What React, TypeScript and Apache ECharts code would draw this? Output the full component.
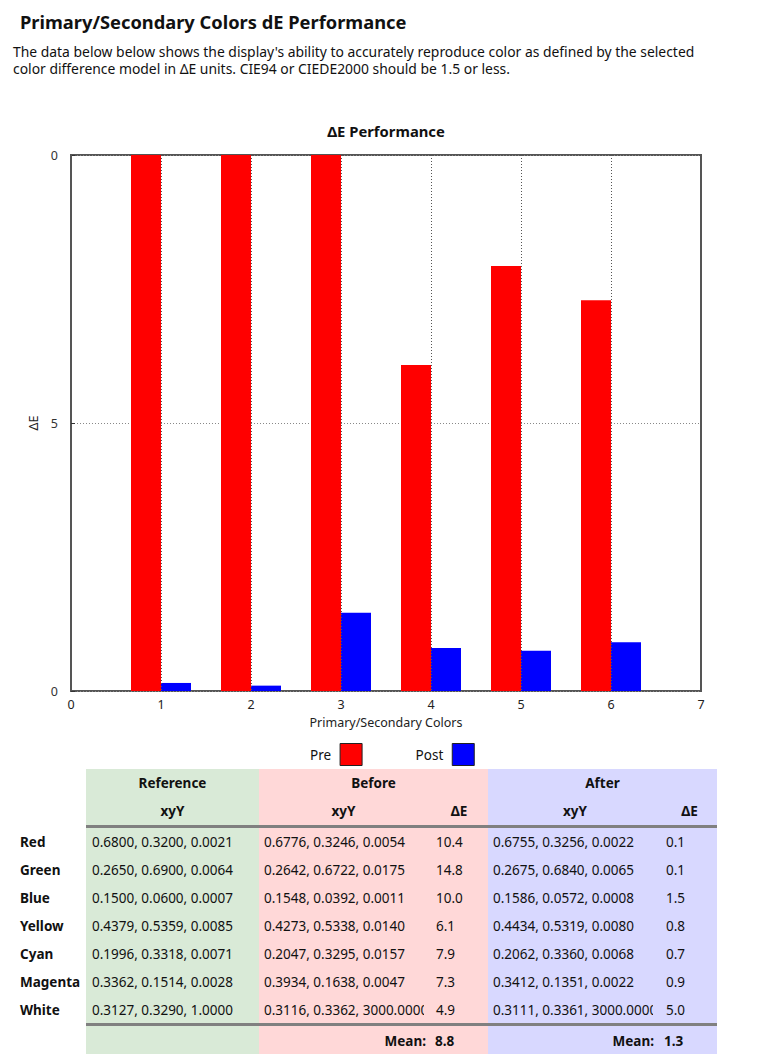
import React, { useEffect, useRef } from "react";
import * as echarts from "echarts";

// ---------- data ----------
const colorNames = ["Red", "Green", "Blue", "Yellow", "Cyan", "Magenta", "White"];
const referenceXyY = [
  "0.6800, 0.3200, 0.0021",
  "0.2650, 0.6900, 0.0064",
  "0.1500, 0.0600, 0.0007",
  "0.4379, 0.5359, 0.0085",
  "0.1996, 0.3318, 0.0071",
  "0.3362, 0.1514, 0.0028",
  "0.3127, 0.3290, 1.0000",
];
const beforeXyY = [
  "0.6776, 0.3246, 0.0054",
  "0.2642, 0.6722, 0.0175",
  "0.1548, 0.0392, 0.0011",
  "0.4273, 0.5338, 0.0140",
  "0.2047, 0.3295, 0.0157",
  "0.3934, 0.1638, 0.0047",
  "0.3116, 0.3362, 3000.0000",
];
const beforeDE = ["10.4", "14.8", "10.0", "6.1", "7.9", "7.3", "4.9"];
const afterXyY = [
  "0.6755, 0.3256, 0.0022",
  "0.2675, 0.6840, 0.0065",
  "0.1586, 0.0572, 0.0008",
  "0.4434, 0.5319, 0.0080",
  "0.2062, 0.3360, 0.0068",
  "0.3412, 0.1351, 0.0022",
  "0.3111, 0.3361, 3000.0000",
];
const afterDE = ["0.1", "0.1", "1.5", "0.8", "0.7", "0.9", "5.0"];
const beforeMean = "8.8";
const afterMean = "1.3";

// bar heights (primary/secondary colours 1..6)
const barPositions = [1, 2, 3, 4, 5, 6];
const preBars = [10.4, 14.8, 10.0, 6.08, 7.93, 7.29];
const postBars = [0.15, 0.1, 1.46, 0.8, 0.75, 0.91];
const xTickLabels = ["0", "1", "2", "3", "4", "5", "6", "7"];
const yTickLabels = ["0", "5", "0"];

const FONT = "Noto Sans";

export default function App() {
  const ref = useRef<HTMLDivElement>(null);

  useEffect(() => {
    document.body.style.margin = "0";
    document.body.style.overflow = "hidden";
    const chart = echarts.init(ref.current!, null, { renderer: "svg" });

    const BAR_W = 1 / 3;
    const makeRender = (side: number) => (params: any, api: any) => {
      const x = api.value(0);
      const y = api.value(1);
      const base = api.coord([x, 0]);
      const top = api.coord([x, y]);
      const w = api.size([BAR_W, 0])[0];
      const rect = echarts.graphic.clipRectByRect(
        {
          x: side < 0 ? base[0] - w : base[0],
          y: top[1],
          width: w,
          height: base[1] - top[1],
        },
        params.coordSys
      );
      if (!rect) return null;
      return { type: "rect", shape: rect, style: { fill: api.visual("color") } };
    };

    // ---------- table graphics ----------
    const g: any[] = [];
    const T = { top: 769, bottom: 1054 };
    const colRef = { x0: 86, x1: 259, fill: "#d9ead7" };
    const colBef = { x0: 259, x1: 488, fill: "#ffd8d8", de: 428, clip: 424 };
    const colAft = { x0: 488, x1: 717, fill: "#d8d8ff", de: 662, clip: 653 };
    const txt = (text: string, x: number, y: number, opts: any = {}) => ({
      type: "text",
      x,
      y,
      z: opts.z ?? 10,
      style: {
        text,
        fill: "#111",
        font: `${opts.bold ? "bold " : ""}${opts.size ?? 13.5}px "${FONT}"`,
        textAlign: opts.align ?? "left",
        textVerticalAlign: "middle",
      },
    });
    [colRef, colBef, colAft].forEach((c) =>
      g.push({
        type: "rect",
        z: 1,
        shape: { x: c.x0, y: T.top, width: c.x1 - c.x0, height: T.bottom - T.top },
        style: { fill: c.fill },
      })
    );
    // header
    g.push(txt("Reference", (colRef.x0 + colRef.x1) / 2, 783, { bold: true, align: "center" }));
    g.push(txt("Before", (colBef.x0 + colBef.x1) / 2, 783, { bold: true, align: "center" }));
    g.push(txt("After", (colAft.x0 + colAft.x1) / 2, 783, { bold: true, align: "center" }));
    g.push(txt("xyY", (colRef.x0 + colRef.x1) / 2, 811, { bold: true, align: "center" }));
    g.push(txt("xyY", (colBef.x0 + colBef.de) / 2, 811, { bold: true, align: "center" }));
    g.push(txt("ΔE", (colBef.de + colBef.x1) / 2 + 1, 811, { bold: true, align: "center" }));
    g.push(txt("xyY", (colAft.x0 + colAft.de) / 2, 811, { bold: true, align: "center" }));
    g.push(txt("ΔE", (colAft.de + colAft.x1) / 2, 811, { bold: true, align: "center" }));
    // separator lines
    [826.5, 1024.5].forEach((y) =>
      g.push({
        type: "line",
        z: 20,
        shape: { x1: colRef.x0, y1: y, x2: colAft.x1, y2: y },
        style: { stroke: "#808080", lineWidth: 3 },
      })
    );
    // cover rects to clip the long xyY strings
    g.push({
      type: "rect",
      z: 12,
      shape: { x: colBef.clip, y: 830, width: colBef.x1 - colBef.clip, height: 192 },
      style: { fill: colBef.fill },
    });
    g.push({
      type: "rect",
      z: 12,
      shape: { x: colAft.clip, y: 830, width: colAft.x1 - colAft.clip, height: 192 },
      style: { fill: colAft.fill },
    });
    colorNames.forEach((name, i) => {
      const y = 842 + 28 * i;
      g.push(txt(name, 20, y, { bold: true }));
      g.push(txt(referenceXyY[i], 92, y));
      g.push(txt(beforeXyY[i], 264, y));
      g.push(txt(beforeDE[i], 436, y, { z: 14 }));
      g.push(txt(afterXyY[i], 493, y));
      g.push(txt(afterDE[i], 666, y, { z: 14 }));
    });
    g.push(txt("Mean:", 426, 1041, { bold: true, align: "right" }));
    g.push(txt(beforeMean, 435, 1041, { bold: true }));
    g.push(txt("Mean:", 654, 1041, { bold: true, align: "right" }));
    g.push(txt(afterMean, 664, 1041, { bold: true }));

    // page header & chart title
    g.push(txt("Primary/Secondary Colors dE Performance", 20, 21, { bold: true, size: 18.3 }));
    g.push(
      txt(
        "The data below below shows the display's ability to accurately reproduce color as defined by the selected",
        13,
        51,
        { size: 13.9 }
      )
    );
    g.push(txt("color difference model in ΔE units. CIE94 or CIEDE2000 should be 1.5 or less.", 13, 68, { size: 13.9 }));
    g.push(txt("ΔE Performance", 386, 131, { bold: true, size: 14.8, align: "center" }));

    chart.setOption({
      animation: false,
      textStyle: { fontFamily: FONT },
      grid: {
        left: 71,
        right: 58,
        top: 155,
        bottom: 373,
        show: true,
        borderColor: "#555",
        borderWidth: 2,
        backgroundColor: "#fff",
      },
      legend: {
        left: 310,
        top: 743,
        padding: 0,
        align: "right",
        itemWidth: 22,
        itemHeight: 22,
        itemGap: 53,
        textStyle: { fontSize: 13.5, color: "#111", padding: [0, 4, 0, 0], fontFamily: FONT },
        data: [
          { name: "Pre", icon: "rect", itemStyle: { color: "#ff0000", borderColor: "#222", borderWidth: 1 } },
          { name: "Post", icon: "rect", itemStyle: { color: "#0000ff", borderColor: "#222", borderWidth: 1 } },
        ],
      },
      xAxis: {
        type: "value",
        min: 0,
        max: 7,
        interval: 1,
        z: 5,
        name: "Primary/Secondary Colors",
        nameLocation: "middle",
        nameGap: 20,
        nameTextStyle: { fontSize: 12.5, color: "#222", fontFamily: FONT },
        axisLine: { show: false },
        axisTick: { show: false },
        axisLabel: {
          fontSize: 12.5,
          color: "#222",
          margin: 7,
          fontFamily: FONT,
          formatter: (_v: number, i: number) => xTickLabels[i],
        },
        splitLine: { show: true, lineStyle: { color: "#555", type: [1, 2], width: 1 } },
      },
      yAxis: {
        type: "value",
        min: 0,
        max: 10,
        interval: 5,
        z: 0,
        name: "ΔE",
        nameLocation: "middle",
        nameGap: 27,
        nameTextStyle: { fontSize: 12.5, color: "#222", fontFamily: FONT },
        axisLine: { show: false },
        axisTick: { show: true, inside: true, length: 4, lineStyle: { color: "#333" } },
        axisLabel: {
          fontSize: 12.5,
          color: "#333",
          margin: 13,
          fontFamily: FONT,
          formatter: (_v: number, i: number) => yTickLabels[i],
        },
        splitLine: { show: true, lineStyle: { color: "#888", type: [1, 2], width: 1 } },
      },
      series: [
        {
          name: "Pre",
          type: "custom",
          z: 2,
          itemStyle: { color: "#ff0000" },
          encode: { x: 0, y: 1 },
          renderItem: makeRender(-1),
          data: barPositions.map((p, i) => [p, preBars[i]]),
        },
        {
          name: "Post",
          type: "custom",
          z: 2,
          itemStyle: { color: "#0000ff" },
          encode: { x: 0, y: 1 },
          renderItem: makeRender(1),
          data: barPositions.map((p, i) => [p, postBars[i]]),
        },
      ],
      graphic: { elements: g },
    });

    return () => chart.dispose();
  }, []);

  return <div ref={ref} style={{ width: 759, height: 1064 }} />;
}
